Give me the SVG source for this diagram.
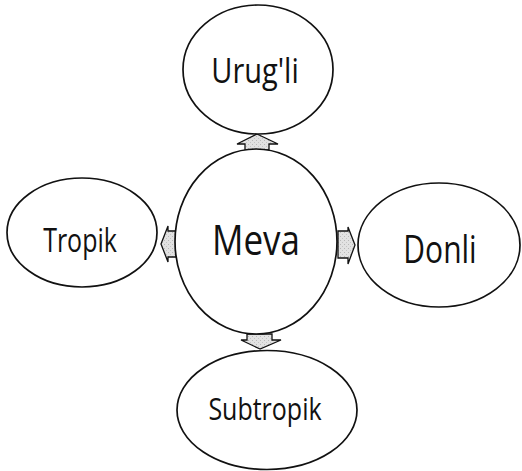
<svg xmlns="http://www.w3.org/2000/svg" width="522" height="471" viewBox="0 0 522 471">
  <style>
    .node { fill: #ffffff; stroke: #111111; stroke-width: 1.7; }
    .label { font-family: "Open Sans", "Noto Sans", "Liberation Sans", sans-serif; fill: #111111; text-anchor: middle; }
    .arrow { fill: url(#grain); stroke: #111111; stroke-width: 1.3; stroke-linejoin: miter; }
  </style>
  <defs>
    <!-- speckled light-grey fill for the block arrows -->
    <pattern id="grain" width="4" height="4" patternUnits="userSpaceOnUse">
      <rect width="4" height="4" fill="#e2e2e2"/>
      <rect x="0" y="0" width="1" height="1" fill="#b8b8b8"/>
      <rect x="2" y="2" width="1" height="1" fill="#c4c4c4"/>
    </pattern>
  </defs>
  <rect width="522" height="471" fill="#ffffff"/>

  <g id="connectors">
    <!-- up: Meva to Urug'li -->
    <path class="arrow" d="M257,134 L278,144 L269,144 L269,150 L245,150 L245,144 L237,144 Z"/>
    <!-- left: Meva to Tropik -->
    <path class="arrow" d="M161,244 L168,226 L168,231 L176,231 L176,257 L168,257 L168,262 Z"/>
    <!-- right: Meva to Donli -->
    <path class="arrow" d="M355,245 L348,227 L348,231 L338,231 L338,258 L348,258 L348,264 Z"/>
    <!-- down: Meva to Subtropik -->
    <path class="arrow" d="M260,349 L241,340 L247,340 L247,334 L272,334 L272,340 L281,340 Z"/>
  </g>

  <g id="node-urugli">
    <ellipse class="node" cx="258" cy="69.5" rx="75" ry="64.5"/>
    <text class="label" font-size="29" transform="translate(255,83) scale(1,1.2)">Urug'li</text>
  </g>

  <g id="node-meva">
    <ellipse class="node" cx="256" cy="241.5" rx="81" ry="92.5"/>
    <text class="label" font-size="35" transform="translate(256,255) scale(1,1.2)">Meva</text>
  </g>

  <g id="node-tropik">
    <ellipse class="node" cx="82" cy="232.5" rx="75" ry="54.5"/>
    <text class="label" font-size="25" transform="translate(80,252) scale(1,1.32)">Tropik</text>
  </g>

  <g id="node-donli">
    <ellipse class="node" cx="439" cy="245" rx="81" ry="62"/>
    <text class="label" font-size="30" transform="translate(440,263) scale(1,1.28)">Donli</text>
  </g>

  <g id="node-subtropik">
    <ellipse class="node" cx="267" cy="410" rx="90" ry="59.5"/>
    <text class="label" font-size="25" transform="translate(265,420) scale(1,1.22)">Subtropik</text>
  </g>
</svg>
